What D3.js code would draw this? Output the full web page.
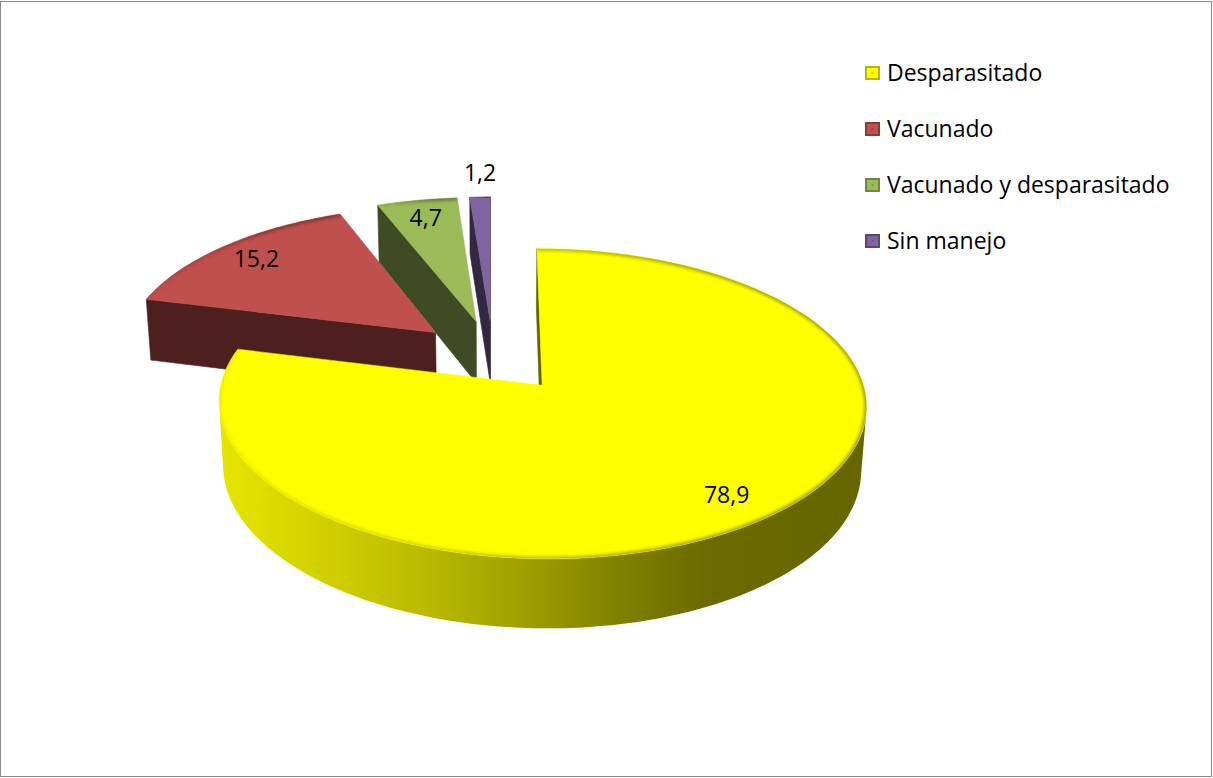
<!DOCTYPE html>
<html>
<head>
<meta charset="utf-8">
<script src="https://cdn.jsdelivr.net/npm/d3@7"></script>
<style>
  html, body { margin: 0; padding: 0; background: #fff; }
  svg { display: block; }
  text { font-family: "Open Sans", "Noto Sans", sans-serif; }
</style>
</head>
<body>
<script>
// Data
const categories = ["Desparasitado", "Vacunado", "Vacunado y desparasitado", "Sin manejo"];
const values = [78.9, 15.2, 4.7, 1.2];
const valueLabels = ["78,9", "15,2", "4,7", "1,2"];
const colors = ["#ffff00", "#c0504d", "#9bbb59", "#8064a2"];

const W = 1213, H = 778;
const svg = d3.select("body").append("svg").attr("width", W).attr("height", H);
const defs = svg.append("defs");
defs.append("filter").attr("id", "soft").attr("x", "-5%").attr("y", "-5%").attr("width", "110%").attr("height", "110%")
  .append("feGaussianBlur").attr("stdDeviation", 1.6);

// chart frame
svg.append("rect")
  .attr("x", 0.5).attr("y", 1.5).attr("width", W - 2).attr("height", H - 3)
  .attr("fill", "#fff").attr("stroke", "#8a8a8a");

// 3D pie geometry: world units are pixels at the depth of the pie centre
const cx = 493, cy = 356, R = 314, thick = 72, explode = 78;
const tilt = Math.asin(0.465);
const sT = Math.sin(tilt), cT = Math.cos(tilt);
const focal = cT / 3.7e-4;
const cam = { X: 0, D: focal * cT, Y: focal * sT };

// X: right, D: towards viewer, Y: up
function project(X, D, Y) {
  const w = D * cT + Y * sT;
  const s = focal / (focal - w);
  return [cx + X * s, cy + (D * sT - Y * cT) * s];
}
function facing(nX, nD, nY, P) {
  return nX * (cam.X - P.X) + nD * (cam.D - P.D) + nY * (cam.Y - P.Y) > 0;
}

const pie = d3.pie().sort(null).value(d => d);
const arcs = pie(values);

const slices = arcs.map((a, i) => {
  const mid = (a.startAngle + a.endAngle) / 2;
  const ox = explode * Math.sin(mid), od = -explode * Math.cos(mid);
  const pt = (ang, r, Y) => ({ X: ox + r * Math.sin(ang), D: od - r * Math.cos(ang), Y });
  return { i, a, mid, ox, od, pt, color: colors[i] };
});

const line = d3.line();
const darken = (c, k) => { const r = d3.rgb(c); return d3.rgb(r.r * k, r.g * k, r.b * k).formatHex(); };
const proj = p => project(p.X, p.D, p.Y);

// far slices first
slices.sort((s1, s2) => s1.od - s2.od);

const pieG = svg.append("g");
slices.forEach(sl => {
  const { a, pt, color, i } = sl;
  const a0 = a.startAngle, a1 = a.endAngle;
  const n = Math.max(4, Math.ceil((a1 - a0) / (Math.PI / 180)));
  const angs = d3.range(n + 1).map(k => a0 + (a1 - a0) * k / n);
  const g = pieG.append("g");

  const topArc = angs.map(t => proj(pt(t, R, 0)));
  const xs = topArc.map(p => p[0]);
  const gx0 = d3.min(xs), gx1 = d3.max(xs);

  // wall gradient: lit from the left
  const gid = "wall" + i;
  const grad = defs.append("linearGradient").attr("id", gid)
    .attr("gradientUnits", "userSpaceOnUse")
    .attr("x1", gx0).attr("x2", gx1).attr("y1", 0).attr("y2", 0);
  [[0, 0.9], [0.25, 0.77], [0.375, 0.69], [0.5, 0.6], [0.62, 0.5], [0.75, 0.42], [1, 0.4]]
    .forEach(([o, k]) => grad.append("stop").attr("offset", o).attr("stop-color", darken(color, k)));

  const sideCol = darken(color, 0.4);

  // radial faces
  [[a0, a0 - Math.PI / 2], [a1, a1 + Math.PI / 2]].forEach(([ang, nAng]) => {
    const nX = Math.sin(nAng), nD = -Math.cos(nAng);
    const c0 = pt(ang, 0, 0), c1 = pt(ang, R, 0);
    const mp = { X: (c0.X + c1.X) / 2, D: (c0.D + c1.D) / 2, Y: -thick / 2 };
    if (facing(nX, nD, 0, mp)) {
      const poly = [pt(ang, 0, 0), pt(ang, R, 0), pt(ang, R, -thick), pt(ang, 0, -thick)].map(proj);
      g.append("path").attr("d", line(poly) + "Z").attr("fill", sideCol)
        .attr("stroke", sideCol).attr("stroke-width", 0.6).attr("stroke-linejoin", "round");
    }
  });

  // outer wall, visible runs only
  const runs = [];
  let cur = null;
  for (let k = 0; k < n; k++) {
    const tm = (angs[k] + angs[k + 1]) / 2;
    const vis = facing(Math.sin(tm), -Math.cos(tm), 0, pt(tm, R, -thick / 2));
    if (vis) { if (!cur) { cur = [k]; runs.push(cur); } cur.push(k + 1); }
    else cur = null;
  }
  runs.forEach(run => {
    const top = run.map(k => proj(pt(angs[k], R, 0)));
    const bot = run.slice().reverse().map(k => proj(pt(angs[k], R, -thick)));
    g.append("path").attr("d", line(top.concat(bot)) + "Z").attr("fill", `url(#${gid})`);
  });

  // top face
  const topPoly = [proj(pt(0, 0, 0))].concat(topArc);
  const topD = line(topPoly) + "Z";
  g.append("path").attr("d", topD).attr("fill", color)
    .attr("stroke", color).attr("stroke-width", 0.5).attr("stroke-linejoin", "round");

  // soft bevel along the rim of the top face
  const cid = "topclip" + i;
  defs.append("clipPath").attr("id", cid).append("path").attr("d", topD);
  g.append("path").attr("d", line(topArc)).attr("fill", "none")
    .attr("stroke", `url(#${gid})`).attr("stroke-width", 5).attr("opacity", 0.55)
    .attr("filter", "url(#soft)").attr("clip-path", `url(#${cid})`);
});

// data labels
const labelG = svg.append("g").attr("font-size", 23).attr("fill", "#000").attr("text-anchor", "middle");
slices.forEach(sl => {
  const share = sl.a.value / d3.sum(values);
  let pos;
  if (share < 0.03) {
    const p = proj(sl.pt(sl.mid, R, 0));
    pos = [p[0], p[1] - 24];
  } else {
    pos = proj(sl.pt(sl.mid, R * 0.84, 0));
  }
  labelG.append("text").attr("x", pos[0]).attr("y", pos[1]).attr("dy", "0.35em").text(valueLabels[sl.i]);
});

// legend
const legend = svg.append("g").attr("transform", "translate(865,66)");
categories.forEach((c, i) => {
  const row = legend.append("g").attr("transform", `translate(0,${i * 56})`);
  row.append("rect").attr("width", 15).attr("height", 14).attr("fill", darken(colors[i], 0.72));
  row.append("rect").attr("x", 2).attr("y", 2).attr("width", 11).attr("height", 10).attr("fill", colors[i]);
  row.append("rect").attr("x", 6.5).attr("y", 6).attr("width", 2).attr("height", 2).attr("fill", darken(colors[i], 0.8));
  row.append("text").attr("x", 22).attr("y", 15).attr("font-size", 23).attr("fill", "#000").text(c);
});
</script>
</body>
</html>
